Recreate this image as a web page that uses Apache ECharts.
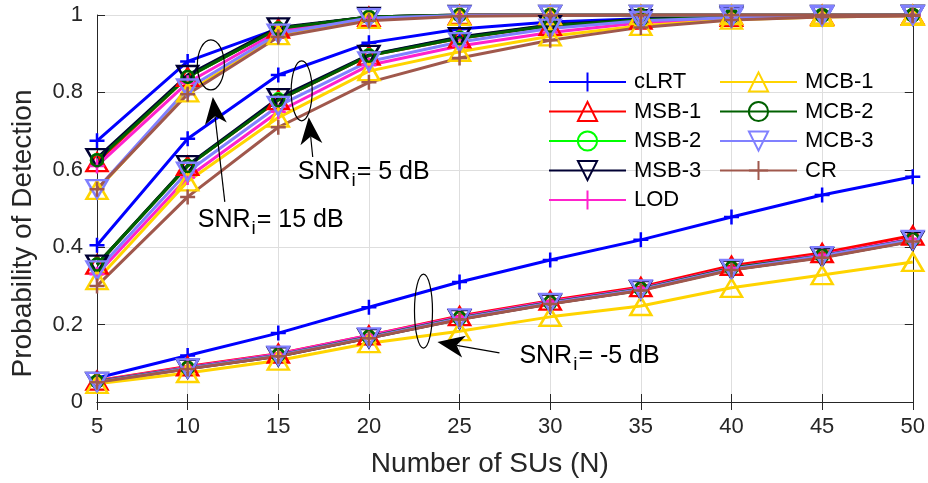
<!DOCTYPE html>
<html><head><meta charset="utf-8">
<script src="https://cdn.jsdelivr.net/npm/echarts@6/dist/echarts.min.js"></script>
<style>html,body{margin:0;padding:0;background:#fff}#c{width:928px;height:483px}</style>
</head><body><div id="c"></div>
<script>
// ---------- data ----------
const xValues = [5, 10, 15, 20, 25, 30, 35, 40, 45, 50];
const xTickLabels = ['5', '10', '15', '20', '25', '30', '35', '40', '45', '50'];
const yTickLabels = ['0', '0.2', '0.4', '0.6', '0.8', '1'];
const methods = ['cLRT', 'MSB-1', 'MSB-2', 'MSB-3', 'LOD', 'MCB-1', 'MCB-2', 'MCB-3', 'CR'];

// SNR_i = 15 dB
const cLRT_15 = [0.675, 0.880, 0.965, 0.995, 1.000, 1.000, 1.000, 1.000, 1.000, 1.000];
const MSB1_15 = [0.620, 0.840, 0.965, 0.995, 1.000, 1.000, 1.000, 1.000, 1.000, 1.000];
const MSB2_15 = [0.625, 0.840, 0.965, 0.995, 1.000, 1.000, 1.000, 1.000, 1.000, 1.000];
const MSB3_15 = [0.630, 0.845, 0.968, 0.995, 1.000, 1.000, 1.000, 1.000, 1.000, 1.000];
const LOD_15  = [0.610, 0.825, 0.958, 0.993, 1.000, 1.000, 1.000, 1.000, 1.000, 1.000];
const MCB1_15 = [0.548, 0.800, 0.948, 0.990, 0.998, 1.000, 1.000, 1.000, 1.000, 1.000];
const MCB2_15 = [0.625, 0.840, 0.965, 0.995, 1.000, 1.000, 1.000, 1.000, 1.000, 1.000];
const MCB3_15 = [0.550, 0.810, 0.952, 0.992, 0.999, 1.000, 1.000, 1.000, 1.000, 1.000];
const CR_15   = [0.550, 0.795, 0.943, 0.985, 0.997, 0.999, 1.000, 1.000, 1.000, 1.000];

// SNR_i = 5 dB
const cLRT_5 = [0.405, 0.680, 0.845, 0.928, 0.964, 0.982, 0.990, 0.996, 0.998, 1.000];
const MSB1_5 = [0.355, 0.610, 0.780, 0.895, 0.940, 0.972, 0.988, 0.995, 0.998, 0.999];
const MSB2_5 = [0.355, 0.610, 0.782, 0.896, 0.942, 0.973, 0.988, 0.995, 0.998, 0.999];
const MSB3_5 = [0.355, 0.612, 0.785, 0.897, 0.943, 0.974, 0.989, 0.996, 0.998, 1.000];
const LOD_5  = [0.330, 0.580, 0.750, 0.870, 0.920, 0.955, 0.980, 0.990, 0.996, 0.998];
const MCB1_5 = [0.315, 0.570, 0.735, 0.855, 0.905, 0.945, 0.972, 0.988, 0.995, 0.998];
const MCB2_5 = [0.355, 0.610, 0.780, 0.895, 0.940, 0.972, 0.988, 0.995, 0.998, 0.999];
const MCB3_5 = [0.340, 0.595, 0.765, 0.880, 0.930, 0.965, 0.985, 0.993, 0.997, 0.999];
const CR_5   = [0.300, 0.530, 0.710, 0.826, 0.889, 0.935, 0.968, 0.987, 0.995, 0.998];

// SNR_i = -5 dB
const cLRT_m5 = [0.062, 0.120, 0.178, 0.245, 0.310, 0.367, 0.419, 0.478, 0.535, 0.582];
const MSB1_m5 = [0.055, 0.092, 0.125, 0.172, 0.222, 0.262, 0.297, 0.352, 0.385, 0.430];
const MSB2_m5 = [0.053, 0.088, 0.121, 0.168, 0.217, 0.257, 0.292, 0.346, 0.378, 0.420];
const MSB3_m5 = [0.052, 0.086, 0.118, 0.165, 0.214, 0.254, 0.289, 0.342, 0.374, 0.416];
const LOD_m5  = [0.054, 0.090, 0.124, 0.172, 0.220, 0.260, 0.294, 0.347, 0.380, 0.422];
const MCB1_m5 = [0.047, 0.075, 0.107, 0.152, 0.183, 0.220, 0.248, 0.295, 0.328, 0.362];
const MCB2_m5 = [0.053, 0.088, 0.121, 0.168, 0.217, 0.257, 0.292, 0.346, 0.378, 0.420];
const MCB3_m5 = [0.052, 0.087, 0.120, 0.167, 0.216, 0.256, 0.291, 0.344, 0.377, 0.419];
const CR_m5   = [0.051, 0.085, 0.118, 0.165, 0.213, 0.253, 0.288, 0.341, 0.373, 0.415];

// annotation anchors in data coordinates
const annotLabels = ['= 15 dB', '= 5 dB', '= -5 dB'];
const annotEllipse = [[11.28, 0.871], [16.29, 0.804], [23.01, 0.235]];
const annotArrowTail = [[12.05, 0.517], [16.90, 0.633], [27.20, 0.127]];
const annotArrowTip = [[11.39, 0.788], [16.68, 0.736], [23.78, 0.155]];
const annotText = [[10.56, 0.470], [16.07, 0.594], [28.30, 0.119]];

// ---------- build ----------
const curves = {
  'cLRT': [cLRT_15, cLRT_5, cLRT_m5],
  'MSB-1': [MSB1_15, MSB1_5, MSB1_m5],
  'MSB-2': [MSB2_15, MSB2_5, MSB2_m5],
  'MSB-3': [MSB3_15, MSB3_5, MSB3_m5],
  'LOD': [LOD_15, LOD_5, LOD_m5],
  'MCB-1': [MCB1_15, MCB1_5, MCB1_m5],
  'MCB-2': [MCB2_15, MCB2_5, MCB2_m5],
  'MCB-3': [MCB3_15, MCB3_5, MCB3_m5],
  'CR': [CR_15, CR_5, CR_m5]
};
const PLUS = 'path://M5,0L5,10M0,5L10,5';
const styles = {
  'cLRT':  {color: '#0000FF', symbol: PLUS, size: 15, rot: 0},
  'MSB-1': {color: '#FF0000', symbol: 'triangle', size: [21, 18], rot: 0},
  'MSB-2': {color: '#00FF00', symbol: 'circle', size: 12, rot: 0},
  'MSB-3': {color: '#000033', symbol: 'triangle', size: [21, 18], rot: 180},
  'LOD':   {color: '#FF22CC', symbol: PLUS, size: 15, rot: 0},
  'MCB-1': {color: '#FFD400', symbol: 'triangle', size: [21, 18], rot: 0},
  'MCB-2': {color: '#006000', symbol: 'circle', size: 12, rot: 0},
  'MCB-3': {color: '#8080FF', symbol: 'triangle', size: [21, 18], rot: 180},
  'CR':    {color: '#A0584C', symbol: PLUS, size: 15, rot: 0}
};
const FONT = 'Liberation Sans, Arial, Helvetica, sans-serif';
const TXT = '#262626';

const series = [];
methods.forEach(function (m) {
  const st = styles[m];
  curves[m].forEach(function (arr) {
    series.push({
      type: 'line', name: m,
      data: xValues.map(function (x, i) { return [x, arr[i]]; }),
      symbol: st.symbol, symbolSize: st.size, symbolRotate: st.rot,
      showAllSymbol: true,
      lineStyle: {color: st.color, width: 3},
      itemStyle: {color: 'rgba(255,255,255,0)', borderColor: st.color, borderWidth: 2.5},
      emphasis: {disabled: true},
      animation: false
    });
  });
});

const legendCommon = {
  orient: 'vertical', itemWidth: 77, itemHeight: 24, itemGap: 5.5, padding: 0,
  selectedMode: false,
  textStyle: {fontSize: 22, color: '#000', fontFamily: FONT, padding: [0, 0, 0, 3], lineHeight: 24}
};

const chart = echarts.init(document.getElementById('c'), null, {renderer: 'canvas'});
const option = {
  backgroundColor: '#fff',
  animation: false,
  grid: {left: 97, right: 14, top: 15, bottom: 81, containLabel: false},
  legend: [
    Object.assign({}, legendCommon, {data: methods.slice(0, 5), left: 548, top: 70}),
    Object.assign({}, legendCommon, {data: methods.slice(5), left: 719, top: 70})
  ],
  xAxis: [{
    type: 'value', min: 5, max: 50, interval: 5,
    name: 'Number of SUs (N)', nameLocation: 'middle', nameGap: 48,
    nameTextStyle: {fontSize: 28, color: TXT, fontFamily: FONT, padding: [0, 30, 0, 0]},
    axisLine: {show: true, lineStyle: {color: TXT, width: 1}},
    axisTick: {show: true, inside: true, length: 8, lineStyle: {color: TXT}},
    axisLabel: {fontSize: 22, color: TXT, fontFamily: FONT, margin: 14,
      formatter: function (v) { return xTickLabels[Math.round((v - 5) / 5)]; }},
    splitLine: {show: true, lineStyle: {color: '#dedede', width: 1}}
  }, {
    type: 'value', min: 5, max: 50, interval: 5, position: 'top',
    axisLine: {show: true, lineStyle: {color: TXT, width: 1}},
    axisTick: {show: true, inside: true, length: 8, lineStyle: {color: TXT}},
    axisLabel: {show: false}, splitLine: {show: false}
  }],
  yAxis: [{
    type: 'value', min: 0, max: 1, interval: 0.2,
    name: 'Probability of Detection', nameLocation: 'middle', nameGap: 60,
    nameTextStyle: {fontSize: 28, color: TXT, fontFamily: FONT, padding: [0, 50, 0, 0]},
    axisLine: {show: true, lineStyle: {color: TXT, width: 1}},
    axisTick: {show: true, inside: true, length: 8, lineStyle: {color: TXT}},
    axisLabel: {fontSize: 22, color: TXT, fontFamily: FONT, margin: 14,
      formatter: function (v) { return yTickLabels[Math.round(v / 0.2)]; }},
    splitLine: {show: true, lineStyle: {color: '#dedede', width: 1}}
  }, {
    type: 'value', min: 0, max: 1, interval: 0.2, position: 'right',
    axisLine: {show: true, lineStyle: {color: TXT, width: 1}},
    axisTick: {show: true, inside: true, length: 8, lineStyle: {color: TXT}},
    axisLabel: {show: false}, splitLine: {show: false}
  }],
  series: series
};
chart.setOption(option);

// annotations (ellipses, arrows, labels) positioned through the axes
function px(p) { return chart.convertToPixel({xAxisIndex: 0, yAxisIndex: 0}, p); }
const graphics = [];
for (let k = 0; k < 3; k++) {
  const c = px(annotEllipse[k]);
  const rx = [13.5, 10.5, 9][k], ry = [25, 30, 37][k];
  graphics.push({type: 'ellipse', shape: {cx: c[0], cy: c[1], rx: rx, ry: ry},
    style: {fill: 'none', stroke: '#000', lineWidth: 1.2}, z: 100});
  const t = px(annotArrowTail[k]), h = px(annotArrowTip[k]);
  let dx = h[0] - t[0], dy = h[1] - t[1];
  const len = Math.sqrt(dx * dx + dy * dy); dx /= len; dy /= len;
  const L = 27, W = 11;
  const bx = h[0] - dx * L, by = h[1] - dy * L;
  const nx = -dy, ny = dx;
  const notch = [h[0] - dx * L * 0.72, h[1] - dy * L * 0.72];
  graphics.push({type: 'line', shape: {x1: t[0], y1: t[1], x2: notch[0], y2: notch[1]},
    style: {stroke: '#000', lineWidth: 1.2}, z: 100});
  graphics.push({type: 'polygon', shape: {points: [h, [bx + nx * W, by + ny * W], notch, [bx - nx * W, by - ny * W]]},
    style: {fill: '#000'}, z: 100});
  const tp = px(annotText[k]);
  graphics.push({type: 'text', x: tp[0], y: tp[1], z: 100,
    style: {text: '{a|SNR}{s|i}{a|' + annotLabels[k] + '}', verticalAlign: 'middle', align: 'left',
      rich: {
        a: {fontSize: 25, lineHeight: 25, fontFamily: FONT, fill: '#000'},
        s: {fontSize: 19, lineHeight: 25, fontFamily: FONT, fill: '#000', padding: [18, 1, 0, 1]}
      }}});
}
chart.setOption({graphic: graphics});
</script></body></html>
